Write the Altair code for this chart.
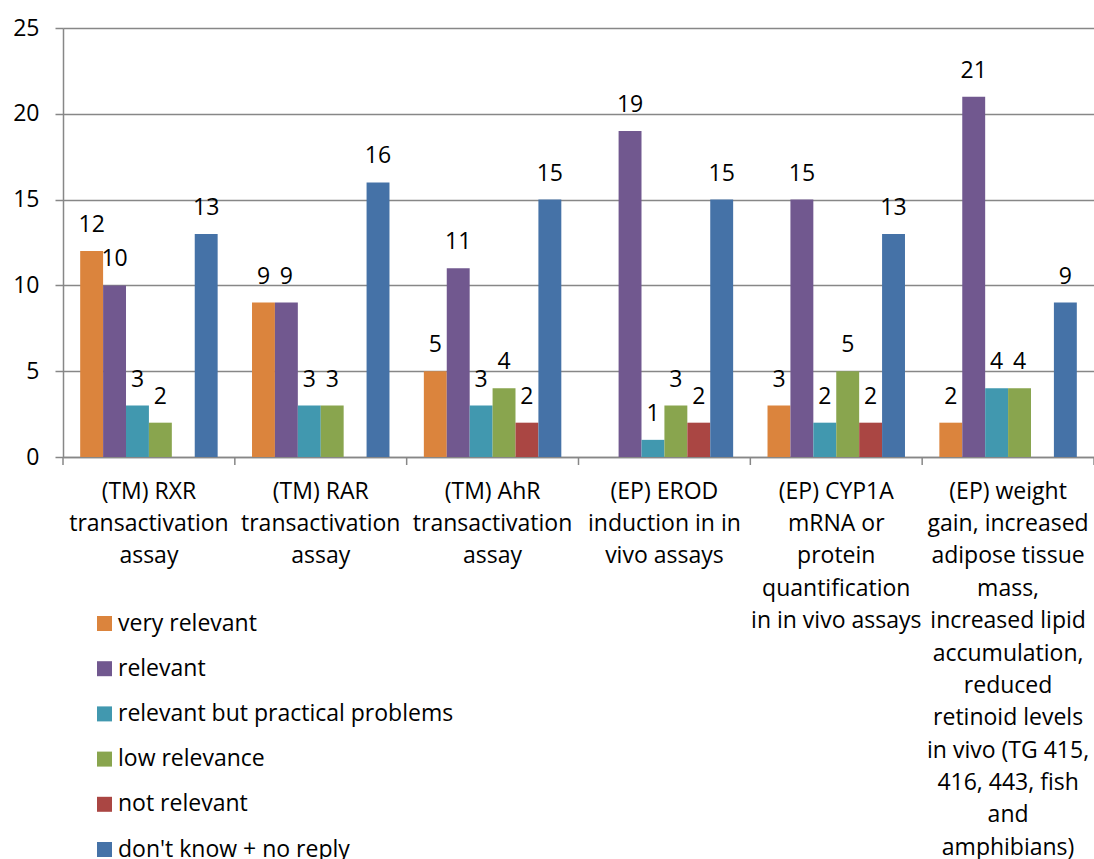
import altair as alt
import pandas as pd

# Assay categories; "|" marks the line breaks of the axis labels
categories = [
    "(TM) RXR|transactivation|assay",
    "(TM) RAR|transactivation|assay",
    "(TM) AhR|transactivation|assay",
    "(EP) EROD|induction in in|vivo assays",
    "(EP) CYP1A|mRNA or|protein|quantification|in in vivo assays",
    "(EP) weight|gain, increased|adipose tissue|mass,|increased lipid|accumulation,|reduced|retinoid levels|in vivo (TG 415,|416, 443, fish|and|amphibians)",
]

series = [
    "very relevant",
    "relevant",
    "relevant but practical problems",
    "low relevance",
    "not relevant",
    "don't know + no reply",
]
colors = ["#DB843D", "#71588F", "#4198AF", "#89A54E", "#AA4643", "#4572A7"]

very_relevant = [12, 9, 5, 0, 3, 2]
relevant = [10, 9, 11, 19, 15, 21]
practical_problems = [3, 3, 3, 1, 2, 4]
low_relevance = [2, 3, 4, 3, 5, 4]
not_relevant = [0, 0, 2, 2, 2, 0]
dont_know = [13, 16, 15, 15, 13, 9]

values_by_series = [very_relevant, relevant, practical_problems,
                    low_relevance, not_relevant, dont_know]

rows = []
for s, vals in zip(series, values_by_series):
    for c, v in zip(categories, vals):
        rows.append({"category": c, "series": s, "value": v})
df = pd.DataFrame(rows)

W, H = 1031, 429
GRAY = "#878787"
FONT = "Open Sans"
FS = 23

x_axis = alt.Axis(
    title=None, labelAngle=0, ticks=False, tickSize=0,
    labelExpr="split(datum.value, '|')",
    labelFontSize=FS, labelLineHeight=32.4, labelPadding=23,
    labelLimit=0, labelColor="black", labelFont=FONT,
    domainColor=GRAY, domainWidth=1.5, grid=False,
)
x_enc = alt.X("category:N", sort=categories,
              scale=alt.Scale(paddingInner=0, paddingOuter=0), axis=x_axis)
xoff = alt.XOffset("series:N", sort=series,
                   scale=alt.Scale(paddingInner=0, paddingOuter=0.75))
y_enc = alt.Y(
    "value:Q",
    scale=alt.Scale(domain=[0, 25], nice=False),
    axis=alt.Axis(
        title=None, values=[0, 5, 10, 15, 20, 25], tickSize=8,
        tickColor=GRAY, tickWidth=1.5, domainColor=GRAY, domainWidth=1.5,
        gridColor=GRAY, gridWidth=1.5, labelFontSize=FS, labelPadding=16,
        labelColor="black", labelFont=FONT,
    ),
)

bars = alt.Chart(df).mark_bar().encode(
    x=x_enc,
    xOffset=xoff,
    y=y_enc,
    color=alt.Color(
        "series:N", sort=series,
        scale=alt.Scale(domain=series, range=colors),
        legend=alt.Legend(
            title=None, orient="none", legendX=30, legendY=584,
            symbolType="square", symbolSize=225, symbolStrokeWidth=0,
            labelFontSize=FS, labelFont=FONT, labelColor="black",
            labelOffset=2, rowPadding=21.2, padding=0, labelLimit=0,
        ),
    ),
)

labels = alt.Chart(df).transform_filter("datum.value > 0").mark_text(
    baseline="alphabetic", dy=-19, fontSize=FS, font=FONT, color="black"
).encode(x=x_enc, xOffset=xoff, y=y_enc, text="value:Q")

# Category boundary ticks below the x axis
tick_df = pd.DataFrame({"category": categories})
boundary_ticks = alt.Chart(tick_df).mark_rule(color=GRAY, strokeWidth=1.5).encode(
    x=alt.X("category:N", sort=categories, bandPosition=0,
            scale=alt.Scale(paddingInner=0, paddingOuter=0), axis=x_axis),
    y=alt.value(H),
    y2=alt.value(H + 8),
)
end_tick = alt.Chart(tick_df.head(1)).mark_rule(color=GRAY, strokeWidth=1.5).encode(
    x=alt.value(W), y=alt.value(H), y2=alt.value(H + 8)
)

chart = alt.layer(bars, labels, boundary_ticks, end_tick).properties(
    width=W, height=H,
    padding={"left": 63, "top": 28, "right": 0, "bottom": 402},
    autosize=alt.AutoSizeParams(type="none"),
).configure_view(stroke=None).configure(font=FONT)

chart.save("out.html", embed_options={"renderer": "svg", "actions": False})
